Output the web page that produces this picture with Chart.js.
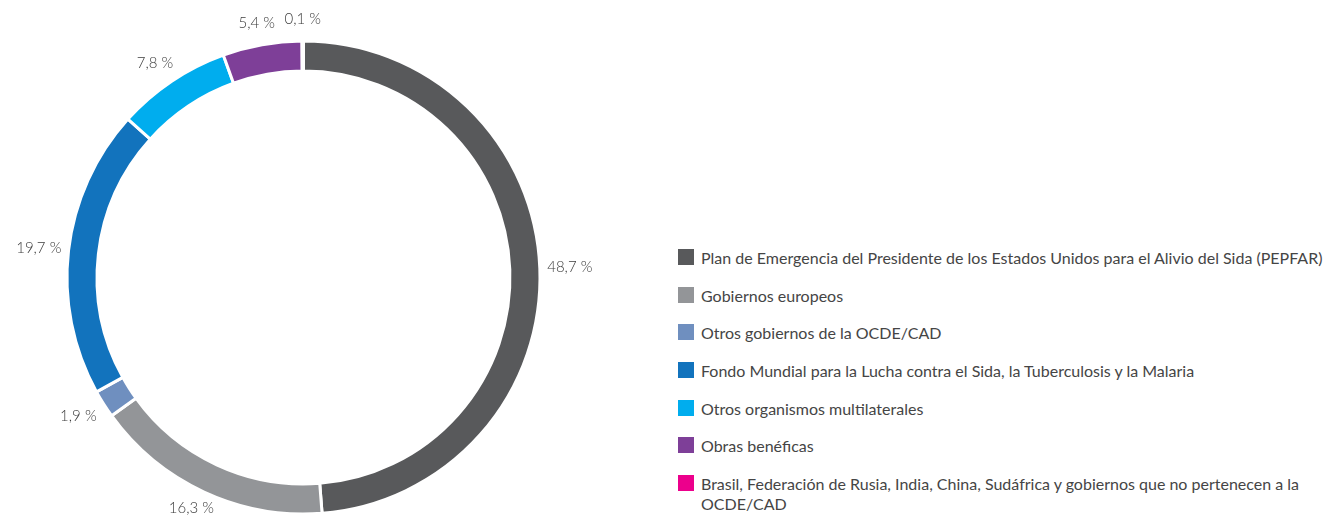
<!DOCTYPE html>
<html>
<head>
<meta charset="utf-8">
<script src="https://cdn.jsdelivr.net/npm/chart.js@4.4.0/dist/chart.umd.min.js"></script>
<style>
  html, body { margin: 0; padding: 0; background: #fff; overflow: hidden; }
  body { width: 1337px; height: 515px; position: relative; font-family: Lato, "Open Sans", sans-serif; }
  #wrap { position: absolute; left: 0; top: 0; width: 640px; height: 516px; }
  #legend { position: absolute; left: 678px; top: 248px; margin: 0; padding: 0; list-style: none; width: 655px; }
  #legend li { display: flex; align-items: flex-start; margin-bottom: 17.7px; font-size: 16px; font-weight: 400; line-height: 20px; color: #454545; }
  #legend .sw { flex: 0 0 16px; height: 16px; margin-top: 1px; margin-right: 7px; }
  #legend .tx { width: 632px; }
</style>
</head>
<body>
<div id="wrap"><canvas id="donut"></canvas></div>
<ul id="legend"></ul>
<script>
// fuentes de financiación (%)
var categories = [
  "Plan de Emergencia del Presidente de los Estados Unidos para el Alivio del Sida (PEPFAR)",
  "Gobiernos europeos",
  "Otros gobiernos de la OCDE/CAD",
  "Fondo Mundial para la Lucha contra el Sida, la Tuberculosis y la Malaria",
  "Otros organismos multilaterales",
  "Obras benéficas",
  "Brasil, Federación de Rusia, India, China, Sudáfrica y gobiernos que no pertenecen a la OCDE/CAD"
]
var values = [48.7, 16.3, 1.9, 19.7, 7.8, 5.4, 0.1]
var valueLabels = ["48,7 %", "16,3 %", "1,9 %", "19,7 %", "7,8 %", "5,4 %", "0,1 %"]
var colors = ["#58595b", "#939598", "#6f8fbf", "#1273bd", "#00adee", "#7e3f98", "#ec008c"]

// legend html
var legendHtml = ""
for (var i = 0; i < categories.length; i++) {
  legendHtml += "<li><span class='sw' style='background:" + colors[i] + "'></span><span class='tx'>" + categories[i] + "</span></li>"
}
document.getElementById('legend').innerHTML = legendHtml

// percent labels outside the ring
var outsideLabels = {
  id: 'outsideLabels',
  afterDraw: function(chart) {
    var ctx = chart.ctx
    var arcs = chart.getDatasetMeta(0).data
    ctx.save()
    ctx.font = "300 15px Lato, 'Open Sans', sans-serif"
    ctx.fillStyle = "#3c3c3c"
    ctx.textAlign = "center"
    ctx.textBaseline = "middle"
    arcs.forEach(function(arc, i) {
      var p = arc.getProps(['x', 'y', 'startAngle', 'endAngle', 'outerRadius'], true)
      var mid = (p.startAngle + p.endAngle) / 2
      var x = p.x + Math.cos(mid) * (p.outerRadius + 30)
      var y = p.y + Math.sin(mid) * (p.outerRadius + 22)
      y = Math.min(y, 508)
      ctx.fillText(valueLabels[i], x, y)
    })
    ctx.restore()
  }
}

var chart = new Chart(document.getElementById('donut').getContext('2d'), {
  type: 'doughnut',
  data: {
    labels: categories,
    datasets: [{
      data: values,
      backgroundColor: colors,
      borderColor: "#ffffff",
      borderWidth: 3,
      hoverOffset: 0
    }]
  },
  options: {
    responsive: true,
    maintainAspectRatio: false,
    animation: false,
    cutout: "87.3%",
    layout: { padding: { left: 65.5, top: 39.5, right: 98.5, bottom: 0.5 } },
    plugins: {
      legend: { display: false },
      tooltip: { enabled: false }
    }
  },
  plugins: [outsideLabels]
})
</script>
</body>
</html>
